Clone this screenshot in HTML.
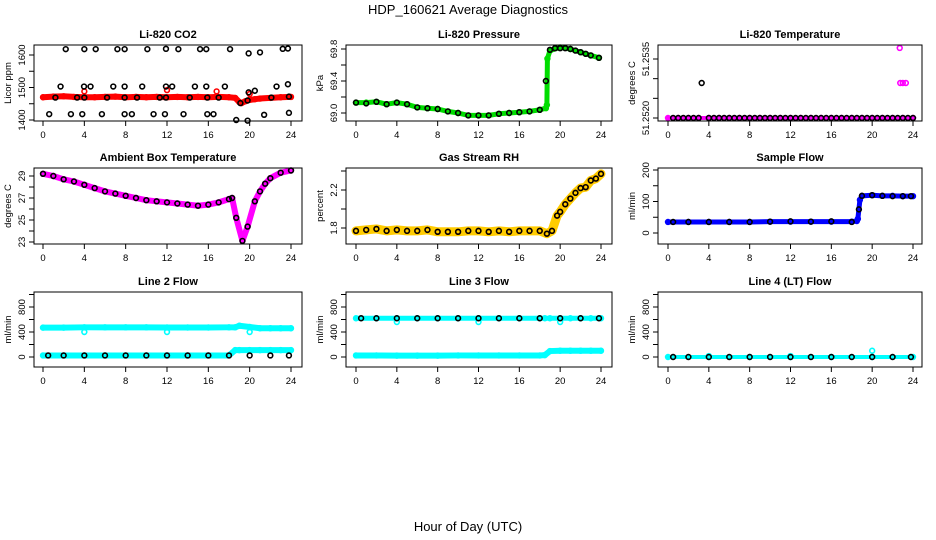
<!DOCTYPE html>
<html><head><meta charset="utf-8">
<style>
html,body{margin:0;padding:0;background:#fff;}
svg{display:block;font-family:"Liberation Sans",Arial,sans-serif;}
</style></head>
<body>
<svg id="chart" width="936" height="540" viewBox="0 0 936 540" xmlns="http://www.w3.org/2000/svg">
<text x="468" y="14" text-anchor="middle" font-size="13">HDP_160621  Average Diagnostics</text>
<text x="468" y="531" text-anchor="middle" font-size="13">Hour of Day (UTC)</text>
</svg>
<script>
// ---------- data ----------
const xTicks = [0,4,8,12,16,20,24];
// Panel 1: CO2
const co2RedHours = [0,1,2,3,4,5,6,7,8,9,10,11,12,13,14,15,16,17,18,18.6,19,19.2,19.6,20,20.5,21,22,23,24];
const co2RedVals  = [1470,1472,1473,1471,1470,1470,1471,1472,1470,1471,1470,1471,1470,1471,1470,1471,1470,1471,1470,1468,1455,1452,1458,1462,1464,1466,1468,1470,1471];
const co2RedOutH = [4.0,12.0,16.8,20.0];
const co2RedOutV = [1488,1492,1488,1480];
const co2BlackH = [2.2,4.0,5.1,7.2,7.9,10.1,11.9,13.1,15.2,15.8,18.1,19.9,21.0,23.2,23.7,
  1.7,3.97,4.6,6.8,7.9,9.6,11.9,12.5,14.7,15.8,17.6,22.6,23.7,
  1.2,3.3,4.0,6.2,7.9,9.1,11.3,11.9,14.2,15.9,17.0,22.1,23.8,19.1,19.8,19.9,20.5,
  0.6,2.7,3.8,5.7,7.9,8.6,10.7,11.8,13.6,15.9,16.5,21.4,23.8,18.7,19.8];
const co2BlackV = [1618,1618,1618,1618,1618,1618,1619,1618,1618,1618,1618,1605,1608,1619,1620,
  1503,1503,1503,1503,1503,1503,1503,1503,1503,1503,1503,1503,1510,
  1469,1469,1469,1469,1469,1469,1469,1469,1469,1469,1469,1469,1472,1452,1460,1485,1490,
  1418,1418,1418,1418,1418,1418,1418,1418,1418,1418,1418,1416,1422,1400,1398];
// Panel 2: pressure
const presHours = [0,1,2,3,4,5,6,7,8,9,10,11,12,13,14,15,16,17,18,18.6,18.7,18.75,19,20,21,22,23,23.8];
const presGreen = [69.13,69.13,69.14,69.11,69.13,69.11,69.07,69.06,69.05,69.02,69.00,68.97,68.97,68.97,68.99,69.00,69.01,69.02,69.04,69.06,69.1,69.68,69.78,69.82,69.80,69.76,69.72,69.69];
const presBlackH = [0,1,2,3,4,5,6,7,8,9,10,11,12,13,14,15,16,17,18,18.6,19,19.5,20,20.5,21,21.5,22,22.5,23,23.8];
const presBlackV = [69.13,69.12,69.14,69.11,69.13,69.11,69.07,69.06,69.05,69.02,69.00,68.97,68.97,68.97,68.99,69.00,69.01,69.02,69.04,69.40,69.79,69.81,69.81,69.81,69.80,69.78,69.76,69.74,69.72,69.69];
// Panel 3: Li-820 temperature
const tempHours = [0,1,2,3,4,5,6,7,8,9,10,11,12,13,14,15,16,17,18,19,20,21,22,23,24];
const tempMag  = [51.2520,51.2520,51.2520,51.2520,51.2520,51.2520,51.2520,51.2520,51.2520,51.2520,51.2520,51.2520,51.2520,51.2520,51.2520,51.2520,51.2520,51.2520,51.2520,51.2520,51.2520,51.2520,51.2520,51.2520,51.2520];
const tempMagOutH = [22.7,22.75,23.0,23.3];
const tempMagOutV = [51.25378,51.25289,51.25289,51.25289];
const tempBlackH = [0.5,1,1.5,2,2.5,3,3.3,4,4.5,5,5.5,6,6.5,7,7.5,8,8.5,9,9.5,10,10.5,11,11.5,12,12.5,13,13.5,14,14.5,15,15.5,16,16.5,17,17.5,18,18.5,19,19.5,20,20.5,21,21.5,22,22.5,23,23.5,24];
const tempBlackV = [51.2520,51.2520,51.2520,51.2520,51.2520,51.2520,51.25289,51.2520,51.2520,51.2520,51.2520,51.2520,51.2520,51.2520,51.2520,51.2520,51.2520,51.2520,51.2520,51.2520,51.2520,51.2520,51.2520,51.2520,51.2520,51.2520,51.2520,51.2520,51.2520,51.2520,51.2520,51.2520,51.2520,51.2520,51.2520,51.2520,51.2520,51.2520,51.2520,51.2520,51.2520,51.2520,51.2520,51.2520,51.2520,51.2520,51.2520,51.2520];
// Panel 4: ambient box temperature
const ambHours = [0,1,2,3,4,5,6,7,8,9,10,11,12,13,14,15,16,17,18,18.3,18.7,19.3,19.8,20.5,21,21.5,22,23,24];
const ambVals  = [29.2,29.0,28.7,28.5,28.2,27.9,27.6,27.4,27.2,27.0,26.8,26.7,26.6,26.5,26.4,26.3,26.4,26.6,26.9,27.0,25.2,23.1,24.4,26.7,27.6,28.3,28.8,29.3,29.5];
// Panel 5: gas stream RH
const rhHours = [0,1,2,3,4,5,6,7,8,9,10,11,12,13,14,15,16,17,18,18.7,19.2,19.7,20,20.5,21,21.5,22,22.5,23,23.5,24];
const rhVals  = [1.77,1.78,1.79,1.77,1.78,1.77,1.77,1.78,1.76,1.76,1.76,1.77,1.77,1.76,1.77,1.76,1.77,1.77,1.77,1.74,1.77,1.93,1.97,2.05,2.11,2.17,2.22,2.23,2.30,2.32,2.37];
// Panel 6: sample flow
const sfHours = [0,2,4,6,8,10,12,14,16,18,18.5,18.6,18.8,19,20,21,22,23,24];
const sfBlue  = [35,35,35,35,35,36,36,36,36,36,38,45,105,118,120,118,118,117,117];
const sfBlackH = [0.5,2,4,6,8,10,12,14,16,18,18.7,19,20,21,22,23,23.8];
const sfBlackV = [35,35,35,35,35,36,37,36,37,35,75,118,120,118,117,117,117];
// Panel 7: line 2 flow
const l2Hours = [0,2,4,6,8,10,12,14,16,18,18.6,19,20,21,22,23,24];
const l2CyanHi = [470,470,475,475,475,475,472,472,472,475,475,500,480,460,460,460,460];
const l2CyanLo = [25,25,25,25,25,25,25,25,25,25,110,110,110,110,110,110,110];
const l2CyanOutH = [4,12,20];
const l2CyanOutV = [400,400,400];
const l2BlackH = [0.5,2,4,6,8,10,12,14,16,18,20,22,23.8];
const l2BlackV = [25,25,25,25,25,25,25,25,25,25,25,25,25];
// Panel 8: line 3 flow
const l3Hours = [0,2,4,6,8,10,12,14,16,18,18.5,19,20,21,22,23,24];
const l3CyanHi = [620,620,620,620,620,620,620,620,620,620,620,620,620,620,620,620,620];
const l3CyanLo = [25,25,22,22,22,25,25,25,25,25,30,95,100,100,100,100,100];
const l3CyanOutH = [4,12,20];
const l3CyanOutV = [560,560,560];
const l3BlackH = [0.5,2,4,6,8,10,12,14,16,18,20,22,23.8];
const l3BlackV = [620,620,620,620,620,620,620,620,620,620,620,620,620];
// Panel 9: line 4 flow
const l4Hours = [0,4,8,12,16,20,24];
const l4Cyan = [0,0,0,0,0,0,0];
const l4CyanOutH = [4,12,20];
const l4CyanOutV = [15,15,100];
const l4BlackH = [0.5,2,4,6,8,10,12,14,16,18,20,22,23.8];
const l4BlackV = [0,0,0,0,0,0,0,0,0,0,0,0,0];

// ---------- drawing ----------
const NS = "http://www.w3.org/2000/svg";
const svg = document.getElementById('chart');
function mk(tag, attrs, parent){
  const e = document.createElementNS(NS, tag);
  for (const k in attrs) e.setAttribute(k, attrs[k]);
  (parent||svg).appendChild(e);
  return e;
}
function panel(cfg){
  const g = mk('g', {});
  
  
  const [bx0,by0,bx1,by1] = cfg.box;
  const xs = h => cfg.x0 + (cfg.x24 - cfg.x0) * h / 24;
  const ys = v => cfg.p1 + (cfg.p2 - cfg.p1) * (v - cfg.v1) / (cfg.v2 - cfg.v1);
  const t = mk('text', {x:(bx0+bx1)/2, y:by0-7, 'text-anchor':'middle', 'font-size':11, 'font-weight':'bold'}, g);
  t.textContent = cfg.title;
  
  
  cfg.series.forEach(s => {
    const sg = mk('g', {}, g);
    
    
    if (s.band) {
      const pts = s.h.map((h,i)=> xs(h)+','+ys(s.v[i])).join(' ');
      mk('polyline', {points:pts, fill:'none', stroke:s.color, 'stroke-width':s.band, 'stroke-linejoin':'round','stroke-linecap':'round'}, sg);
    }
    s.h.forEach((h,i)=>{
      const c = mk('circle', {cx:xs(h), cy:ys(s.v[i]), r:s.r||2.4, fill:'none', stroke:s.pcolor||s.color, 'stroke-width':1.6}, sg);
      
      
    });
  });
  mk('rect', {x:bx0, y:by0, width:bx1-bx0, height:by1-by0, fill:'none', stroke:'#000', 'stroke-width':1}, g);
  const xa = mk('g', {}, g);
  
  
  mk('line', {x1:xs(0), x2:xs(24), y1:by1, y2:by1, stroke:'#000'}, xa);
  xTicks.forEach(v=>{
    mk('line', {x1:xs(v), x2:xs(v), y1:by1, y2:by1+5, stroke:'#000'}, xa);
    const tx = mk('text', {x:xs(v), y:by1+17, 'text-anchor':'middle', 'font-size':9.5}, xa);
    tx.textContent = v;
  });
  const ya = mk('g', {}, g);
  
  
  const yt = cfg.yTicks;
  mk('line', {x1:bx0, x2:bx0, y1:ys(yt[0]), y2:ys(yt[yt.length-1]), stroke:'#000'}, ya);
  yt.forEach(v=>{ mk('line', {x1:bx0-5, x2:bx0, y1:ys(v), y2:ys(v), stroke:'#000'}, ya); });
  cfg.yLabels.forEach((lab,i)=>{
    const y = ys(cfg.yLabelVals[i]);
    const tx = mk('text', {x:bx0-9, y:y, 'text-anchor':'middle', 'font-size':9.5, transform:`rotate(-90 ${bx0-9} ${y})`}, ya);
    tx.textContent = lab;
  });
  const yl = mk('text', {x:bx0-23, y:(by0+by1)/2, 'text-anchor':'middle', 'font-size':9.5, transform:`rotate(-90 ${bx0-23} ${(by0+by1)/2})`}, ya);
  yl.textContent = cfg.ylab;
  
  
}

const R1 = [45,121], R2 = [168,244], R3 = [292,367];
const C1 = {bx0:34,bx1:302,x0:43,x24:291}, C2={bx0:346,bx1:612,x0:356,x24:601}, C3={bx0:658,bx1:922,x0:668,x24:913};
function B(c,r){return [c.bx0,r[0],c.bx1,r[1]];}

panel({name:'panel-co2', title:'Li-820 CO2', box:B(C1,R1), x0:C1.x0, x24:C1.x24, v1:1400,p1:120,v2:1600,p2:55,
  yTicks:[1400,1450,1500,1550,1600], yLabels:['1400','1500','1600'], yLabelVals:[1400,1500,1600], ylab:'Licor ppm',
  series:[{name:'co2-red', h:co2RedHours, v:co2RedVals, color:'#ff0000', band:6},
          {name:'co2-red-outliers', h:co2RedOutH, v:co2RedOutV, color:'#ff0000'},
          {name:'co2-black', h:co2BlackH, v:co2BlackV, color:'#000'}]});
panel({name:'panel-pressure', title:'Li-820 Pressure', box:B(C2,R1), x0:C2.x0, x24:C2.x24, v1:69.0,p1:113,v2:69.8,p2:49,
  yTicks:[69.0,69.2,69.4,69.6,69.8], yLabels:['69.0','69.4','69.8'], yLabelVals:[69.0,69.4,69.8], ylab:'kPa',
  series:[{name:'pressure-green', h:presHours, v:presGreen, color:'#00dd00', band:5},
          {name:'pressure-black', h:presBlackH, v:presBlackV, color:'#000'}]});
panel({name:'panel-li820-temp', title:'Li-820 Temperature', box:B(C3,R1), x0:C3.x0, x24:C3.x24, v1:51.2520,p1:118,v2:51.2535,p2:59,
  yTicks:[51.2520,51.2525,51.2530,51.2535], yLabels:['51.2520','51.2535'], yLabelVals:[51.2520,51.2535], ylab:'degrees C',
  series:[{name:'temp-magenta', h:tempHours, v:tempMag, color:'#ff00ff', band:4},
          {name:'temp-magenta-outliers', h:tempMagOutH, v:tempMagOutV, color:'#ff00ff'},
          {name:'temp-black', h:tempBlackH, v:tempBlackV, color:'#000'}]});
panel({name:'panel-ambient-temp', title:'Ambient Box Temperature', box:B(C1,R2), x0:C1.x0, x24:C1.x24, v1:23,p1:242,v2:29,p2:176,
  yTicks:[23,24,25,26,27,28,29], yLabels:['23','25','27','29'], yLabelVals:[23,25,27,29], ylab:'degrees C',
  series:[{name:'ambient-magenta', h:ambHours, v:ambVals, color:'#ff00ff', band:6},
          {name:'ambient-black', h:ambHours, v:ambVals, color:'#000'}]});
panel({name:'panel-gas-rh', title:'Gas Stream RH', box:B(C2,R2), x0:C2.x0, x24:C2.x24, v1:1.8,p1:228,v2:2.2,p2:190,
  yTicks:[1.8,2.0,2.2,2.4], yLabels:['1.8','2.2'], yLabelVals:[1.8,2.2], ylab:'percent',
  series:[{name:'rh-yellow', h:rhHours, v:rhVals, color:'#ffcc00', band:9, pcolor:'#ff6600'},
          {name:'rh-black', h:rhHours, v:rhVals, color:'#000'}]});
panel({name:'panel-sample-flow', title:'Sample Flow', box:B(C3,R2), x0:C3.x0, x24:C3.x24, v1:0,p1:233,v2:200,p2:170,
  yTicks:[0,50,100,150,200], yLabels:['0','100','200'], yLabelVals:[0,100,200], ylab:'ml/min',
  series:[{name:'sample-flow-blue', h:sfHours, v:sfBlue, color:'#0000ff', band:5},
          {name:'sample-flow-black', h:sfBlackH, v:sfBlackV, color:'#000'}]});
const flowY = {v1:0,p1:357,v2:800,p2:307, yTicks:[0,200,400,600,800,1000], yLabels:['0','400','800'], yLabelVals:[0,400,800], ylab:'ml/min'};
panel(Object.assign({name:'panel-line2-flow', title:'Line 2 Flow', box:B(C1,R3), x0:C1.x0, x24:C1.x24,
  series:[{name:'line2-cyan-high', h:l2Hours, v:l2CyanHi, color:'#00ffff', band:6},
          {name:'line2-cyan-low', h:l2Hours, v:l2CyanLo, color:'#00ffff', band:6},
          {name:'line2-cyan-outliers', h:l2CyanOutH, v:l2CyanOutV, color:'#00ffff'},
          {name:'line2-black', h:l2BlackH, v:l2BlackV, color:'#000'}]}, flowY));
panel(Object.assign({name:'panel-line3-flow', title:'Line 3 Flow', box:B(C2,R3), x0:C2.x0, x24:C2.x24,
  series:[{name:'line3-cyan-high', h:l3Hours, v:l3CyanHi, color:'#00ffff', band:5},
          {name:'line3-cyan-low', h:l3Hours, v:l3CyanLo, color:'#00ffff', band:6},
          {name:'line3-cyan-outliers', h:l3CyanOutH, v:l3CyanOutV, color:'#00ffff'},
          {name:'line3-black', h:l3BlackH, v:l3BlackV, color:'#000'}]}, flowY));
panel(Object.assign({name:'panel-line4-flow', title:'Line 4 (LT) Flow', box:B(C3,R3), x0:C3.x0, x24:C3.x24,
  series:[{name:'line4-cyan', h:l4Hours, v:l4Cyan, color:'#00ffff', band:4},
          {name:'line4-cyan-outliers', h:l4CyanOutH, v:l4CyanOutV, color:'#00ffff'},
          {name:'line4-black', h:l4BlackH, v:l4BlackV, color:'#000'}]}, flowY));
</script>
</body></html>
